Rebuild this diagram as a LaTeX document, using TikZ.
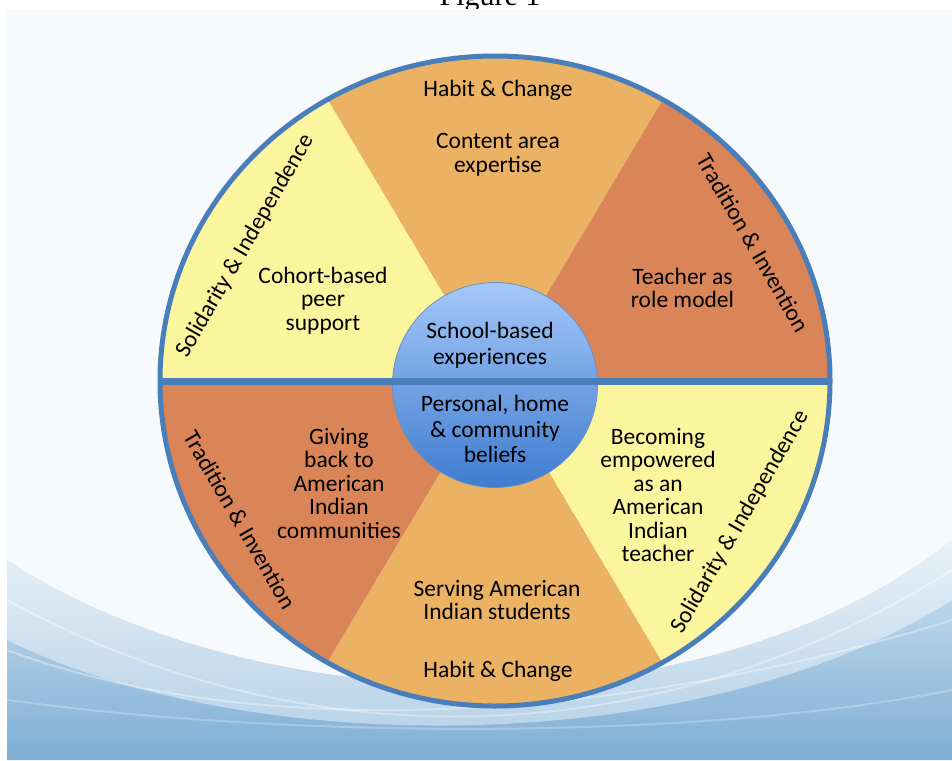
\documentclass[tikz,border=0pt]{standalone}
\usepackage{fontspec}
\setmainfont{Carlito}
\newfontfamily\figfont{Liberation Serif}
\definecolor{yel}{HTML}{FBF59E}
\definecolor{lor}{HTML}{EBB263}
\definecolor{dor}{HTML}{D98558}
\definecolor{rim}{HTML}{4A7EBB}
\definecolor{hubA}{HTML}{A5C8F8}
\definecolor{hubB}{HTML}{3F7CD0}
\definecolor{bgw}{HTML}{F7FAFD}
\definecolor{bgm}{HTML}{D3E5F2}
\definecolor{bgb}{HTML}{7EAED4}
\begin{document}
\begin{tikzpicture}[x=1pt,y=-1pt,
  lbl/.style={font=\fontsize{23.5}{23.5}\selectfont, align=center, text=black, inner sep=0pt},
  hublbl/.style={font=\fontsize{23.5}{25.5}\selectfont, align=center, text=black, inner sep=0pt},
  rimlbl/.style={font=\fontsize{23.5}{24}\selectfont, text=black, inner sep=0pt},
  swoosh/.style={white, opacity=0.35, line width=2pt}]
\useasboundingbox (0,0) rectangle (952,760);
\clip (0,0) rectangle (952,760);
\fill[white] (0,0) rectangle (952,760);
\node[font=\figfont\fontsize{30}{30}\selectfont, anchor=base, inner sep=0pt] (fig) at (490,6) {Figure 1};
% background panel
\fill[bgw] (7,9) rectangle (952,760);
\shade[top color=bgm, bottom color=bgb]
  (7,560) .. controls (250,720) and (700,740) .. (952,540) -- (952,760) -- (7,760) -- cycle;
\shade[top color=bgw, bottom color=bgm, opacity=0.6]
  (7,560) .. controls (250,720) and (700,740) .. (952,540) -- (952,600) .. controls (700,760) and (250,760) .. (7,640) -- cycle;
\draw[swoosh] (7,600) .. controls (300,760) and (650,760) .. (952,570);
\draw[swoosh] (7,650) .. controls (300,760) and (700,700) .. (952,620);
\draw[swoosh, opacity=0.25] (7,700) .. controls (300,740) and (700,740) .. (952,690);
% wheel
\coordinate (c) at (495,381);
\fill[dor] (c) -- ++(0:335 and 325) arc[start angle=0, end angle=-60, x radius=335, y radius=325] -- cycle;
\fill[lor] (c) -- ++(-60:335 and 325) arc[start angle=-60, end angle=-120, x radius=335, y radius=325] -- cycle;
\fill[yel] (c) -- ++(-120:335 and 325) arc[start angle=-120, end angle=-180, x radius=335, y radius=325] -- cycle;
\fill[dor] (c) -- ++(180:335 and 325) arc[start angle=180, end angle=120, x radius=335, y radius=325] -- cycle;
\fill[lor] (c) -- ++(120:335 and 325) arc[start angle=120, end angle=60, x radius=335, y radius=325] -- cycle;
\fill[yel] (c) -- ++(60:335 and 325) arc[start angle=60, end angle=0, x radius=335, y radius=325] -- cycle;
\draw[rim, line width=5pt] (c) ellipse[x radius=335, y radius=325];
% hub
\node[circle, minimum size=205pt, inner sep=0pt, top color=hubA, bottom color=hubB, draw=rim!85, line width=0.8pt] (hub) at (495,385) {};
% bar
\fill[rim] (160,377.5) rectangle (830,385);
% texts
\node[lbl, anchor=base] (hc1) at (498,96.7) {Habit \& Change};
\node[lbl] (cae) at (498,155) {Content area\\expertise};
\node[lbl] (tarm) at (682.5,288) {Teacher as\\role model};
\node[lbl] (cbp) at (323,300.5) {Cohort-based\\peer\\support};
\node[lbl] (gb) at (339,483) {Giving\\back to\\American\\Indian\\communities};
\node[lbl] (be) at (658,495) {Becoming\\empowered\\as an\\American\\Indian\\teacher};
\node[lbl] (sais) at (497,600) {Serving American\\Indian students};
\node[lbl, anchor=base] (hc2) at (498,677) {Habit \& Change};
\node[hublbl] (sbe) at (490,345) {School-based\\experiences};
\node[hublbl] (phc) at (495,429) {Personal, home\\\& community\\beliefs};
\node[rimlbl, rotate=60] (si1) at (245,246) {Solidarity \& Independence};
\node[rimlbl, rotate=-60] (ti1) at (753,243) {Tradition \& Invention};
\node[rimlbl, rotate=-60] (ti2) at (240,520) {Tradition \& Invention};
\node[rimlbl, rotate=60] (si2) at (740,522) {Solidarity \& Independence};
\end{tikzpicture}
\end{document}
